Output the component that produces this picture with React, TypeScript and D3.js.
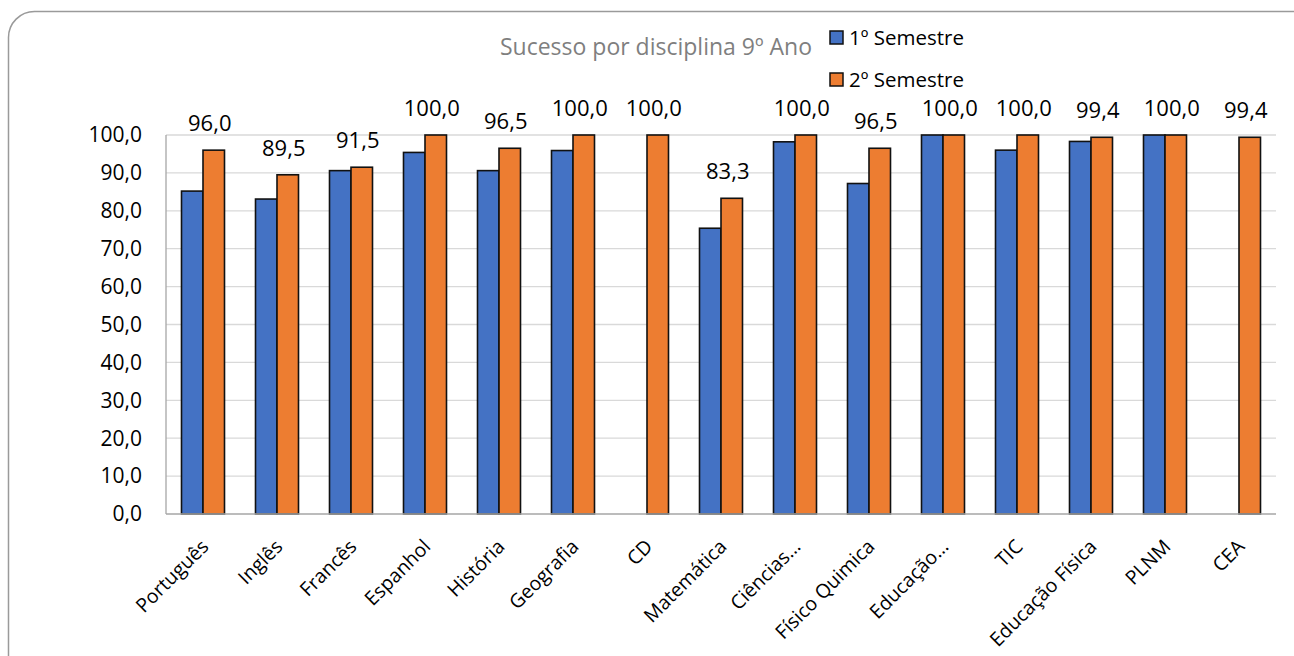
import React, { useEffect, useRef } from 'react';
import * as d3 from 'd3';

const categories = [
  'Português', 'Inglês', 'Francês', 'Espanhol', 'História', 'Geografia', 'CD',
  'Matemática', 'Ciências…', 'Físico Quimica', 'Educação…', 'TIC',
  'Educação Física', 'PLNM', 'CEA'
];
const sem1: (number | null)[] = [85.2, 83.1, 90.6, 95.4, 90.6, 95.9, null, 75.4, 98.2, 87.2, 100, 96.0, 98.3, 100, null];
const sem2: number[] = [96.0, 89.5, 91.5, 100, 96.5, 100, 100, 83.3, 100, 96.5, 100, 100, 99.4, 100, 99.4];
const yTicks = [0, 10, 20, 30, 40, 50, 60, 70, 80, 90, 100];
const seriesNames = ['1º Semestre', '2º Semestre'];
const colors = ['#4472c4', '#ed7d31'];

const FONT = '"Open Sans", "Noto Sans", sans-serif';

export default function App() {
  const ref = useRef<SVGSVGElement>(null);

  useEffect(() => {
    const svg = d3.select(ref.current);
    svg.selectAll('*').remove();
    const width = 1294, height = 656;
    const margin = { top: 135, left: 166, right: 18, bottom: 142 };

    // outer frame
    svg.append('rect')
      .attr('x', 8.5).attr('y', 11.5)
      .attr('width', 1310).attr('height', 700)
      .attr('rx', 26)
      .attr('fill', 'white')
      .attr('stroke', '#9a9a9a').attr('stroke-width', 1.5);

    const x = d3.scaleBand().domain(categories)
      .range([margin.left, width - margin.right]).paddingInner(0).paddingOuter(0);
    const y = d3.scaleLinear().domain([0, 100]).range([height - margin.bottom, margin.top]);
    const bw = 21.5;

    // gridlines
    svg.append('g').selectAll('line').data(yTicks.slice(1)).join('line')
      .attr('x1', margin.left).attr('x2', width - margin.right)
      .attr('y1', d => y(d)).attr('y2', d => y(d))
      .attr('stroke', '#d9d9d9').attr('stroke-width', 1.3);

    // y tick labels
    svg.append('g').selectAll('text').data(yTicks).join('text')
      .attr('x', margin.left - 24).attr('y', d => y(d)).attr('dy', '0.35em')
      .attr('text-anchor', 'end')
      .style('font-family', FONT).style('font-size', '21px').attr('fill', '#000')
      .text(d => d3.format('.1f')(d).replace('.', ','));

    // bars
    const idx = d3.range(categories.length);
    [sem1, sem2].forEach((vals, si) => {
      svg.append('g').selectAll('rect')
        .data(idx.filter(i => vals[i] != null))
        .join('rect')
        .attr('x', i => x(categories[i])! + x.bandwidth() / 2 - bw + si * bw)
        .attr('y', i => y(vals[i] as number))
        .attr('width', bw)
        .attr('height', i => y(0) - y(vals[i] as number))
        .attr('fill', colors[si])
        .attr('stroke', '#111').attr('stroke-width', 1.6);
    });

    // axes lines
    svg.append('line')
      .attr('x1', margin.left).attr('x2', margin.left)
      .attr('y1', y(100)).attr('y2', y(0))
      .attr('stroke', '#a6a6a6').attr('stroke-width', 1.3);
    svg.append('line')
      .attr('x1', margin.left).attr('x2', width - margin.right)
      .attr('y1', y(0)).attr('y2', y(0))
      .attr('stroke', '#a6a6a6').attr('stroke-width', 1.3);

    // data labels on 2nd semester
    svg.append('g').selectAll('text').data(idx).join('text')
      .attr('x', i => x(categories[i])! + x.bandwidth() / 2 + bw / 2 - 4)
      .attr('y', i => y(sem2[i]) - 19)
      .attr('text-anchor', 'middle')
      .style('font-family', FONT).style('font-size', '22px').attr('fill', '#000')
      .text(i => d3.format('.1f')(sem2[i]).replace('.', ','));

    // x labels
    svg.append('g').selectAll('text').data(categories).join('text')
      .attr('transform', d => `translate(${x(d)! + x.bandwidth() / 2 + 2},${y(0) + 29}) rotate(-45)`)
      .attr('text-anchor', 'end')
      .attr('dy', '0.35em')
      .style('font-family', FONT).style('font-size', '19.5px').attr('fill', '#000')
      .text(d => d);

    // title
    svg.append('text')
      .attr('x', 656).attr('y', 55)
      .attr('text-anchor', 'middle')
      .style('font-family', FONT).style('font-size', '23px').attr('fill', '#7f7f7f')
      .text('Sucesso por disciplina 9º Ano');

    // legend
    const lg = svg.append('g');
    seriesNames.forEach((name, i) => {
      const ly = 31 + i * 42;
      lg.append('rect')
        .attr('x', 830).attr('y', ly).attr('width', 13).attr('height', 13)
        .attr('fill', colors[i]).attr('stroke', '#111').attr('stroke-width', 1.5);
      lg.append('text')
        .attr('x', 849).attr('y', ly + 14)
        .style('font-family', FONT).style('font-size', '20.5px').attr('fill', '#000')
        .text(name);
    });
  }, []);

  return <svg ref={ref} width={1294} height={656} style={{ position: 'absolute', left: 0, top: 0 }} />;
}
